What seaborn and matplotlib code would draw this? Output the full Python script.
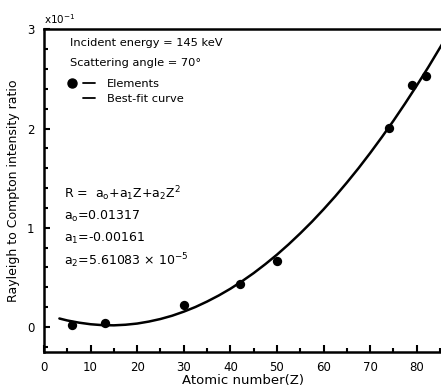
import numpy as np
import pandas as pd
import matplotlib
matplotlib.use("Agg")
import matplotlib.pyplot as plt
from matplotlib.lines import Line2D
from matplotlib.legend_handler import HandlerTuple
from matplotlib.ticker import MultipleLocator
import seaborn as sns

# measured points (ratio in units of 1e-1)
atomic_number = [6, 13, 30, 42, 50, 74, 79, 82]
ratio = [0.02, 0.04, 0.22, 0.43, 0.66, 2.01, 2.44, 2.53]

# best-fit curve
fit_z = [3.3, 5, 7.5, 10, 12.5, 15, 17.5, 20, 22.5, 25, 27.5, 30, 32.5, 35,
         37.5, 40, 42.5, 45, 47.5, 50, 52.5, 55, 57.5, 60, 62.5, 65, 67.5,
         70, 72.5, 75, 77.5, 80, 82.5, 85.5]
fit_ratio = [0.085, 0.065, 0.043, 0.027, 0.018, 0.016, 0.022, 0.034, 0.054,
             0.080, 0.113, 0.154, 0.201, 0.256, 0.317, 0.385, 0.461, 0.543,
             0.633, 0.729, 0.833, 0.944, 1.061, 1.186, 1.317, 1.456, 1.601,
             1.754, 1.914, 2.080, 2.254, 2.435, 2.622, 2.857]

x_ticks = [0, 10, 20, 30, 40, 50, 60, 70, 80]
y_ticks = [0, 1, 2, 3]

points = pd.DataFrame({"Z": atomic_number, "R": ratio})
curve = pd.DataFrame({"Z": fit_z, "R": fit_ratio})

sns.set_theme(style="ticks")
plt.rcParams["font.family"] = ["DejaVu Sans"]
plt.rcParams["mathtext.default"] = "regular"
plt.rcParams["text.color"] = "black"
plt.rcParams["axes.labelcolor"] = "black"

fig = plt.figure(figsize=(4.41, 3.87), dpi=100)
ax = fig.add_axes([0.0998, 0.0912, 0.9002, 0.8326])

sns.lineplot(data=curve, x="Z", y="R", ax=ax, color="black", linewidth=1.8,
             sort=True, estimator=None)
sns.scatterplot(data=points, x="Z", y="R", ax=ax, color="black", marker="o",
                s=45, edgecolor="black", linewidth=0, zorder=3)

ax.set_xlim(0, 85.2)
ax.set_ylim(-0.25, 3.0)
ax.set_xticks(x_ticks)
ax.set_yticks(y_ticks)
ax.xaxis.set_minor_locator(MultipleLocator(5))
ax.yaxis.set_minor_locator(MultipleLocator(0.2))
ax.tick_params(axis="both", which="both", direction="in", colors="black",
               labelsize=8.5, width=1.5)
ax.tick_params(axis="x", which="major", length=5, pad=7)
ax.tick_params(axis="x", which="minor", length=3)
ax.tick_params(axis="y", which="major", length=4, pad=7)
ax.tick_params(axis="y", which="minor", length=3)

for side in ["left", "top", "bottom"]:
    ax.spines[side].set_visible(True)
    ax.spines[side].set_linewidth(1.8)
    ax.spines[side].set_color("black")
ax.spines["right"].set_visible(False)

ax.set_xlabel("Atomic number(Z)", fontsize=9.5, labelpad=0)
ax.set_ylabel("Rayleigh to Compton intensity ratio", fontsize=9, labelpad=5)

ax.text(0.0, 1.01, r"x10$^{-1}$", transform=ax.transAxes, fontsize=7.5,
        ha="left", va="bottom")

ax.text(0.065, 0.958, "Incident energy = 145 keV", transform=ax.transAxes,
        fontsize=8.2, va="center")
ax.text(0.065, 0.896, "Scattering angle = 70°", transform=ax.transAxes,
        fontsize=8.2, va="center")

h_pt = Line2D([], [], color="black", marker="o", linestyle="none", markersize=6.5)
h_none = Line2D([], [], color="none", marker="o", linestyle="none", markersize=6.5)
h_dash = Line2D([], [], color="black", linewidth=1.3)
ax.legend([(h_pt, h_dash), (h_none, h_dash)], ["Elements", "Best-fit curve"],
          handler_map={tuple: HandlerTuple(ndivide=None, pad=0.4)},
          loc="upper left", bbox_to_anchor=(0.055, 0.846), frameon=False,
          fontsize=8.2, handlelength=2.6, handletextpad=1.0, labelspacing=0.4,
          borderpad=0, borderaxespad=0)

ax.text(0.05, 0.49, r"R =  a$_o$+a$_1$Z+a$_2$Z$^2$", transform=ax.transAxes,
        fontsize=9, va="center")
ax.text(0.05, 0.42, r"a$_o$=0.01317", transform=ax.transAxes,
        fontsize=9, va="center")
ax.text(0.05, 0.352, r"a$_1$=-0.00161", transform=ax.transAxes,
        fontsize=9, va="center")
ax.text(0.05, 0.284, r"a$_2$=5.61083 × 10$^{-5}$", transform=ax.transAxes,
        fontsize=9, va="center")

fig.savefig("out.png", dpi=100)
